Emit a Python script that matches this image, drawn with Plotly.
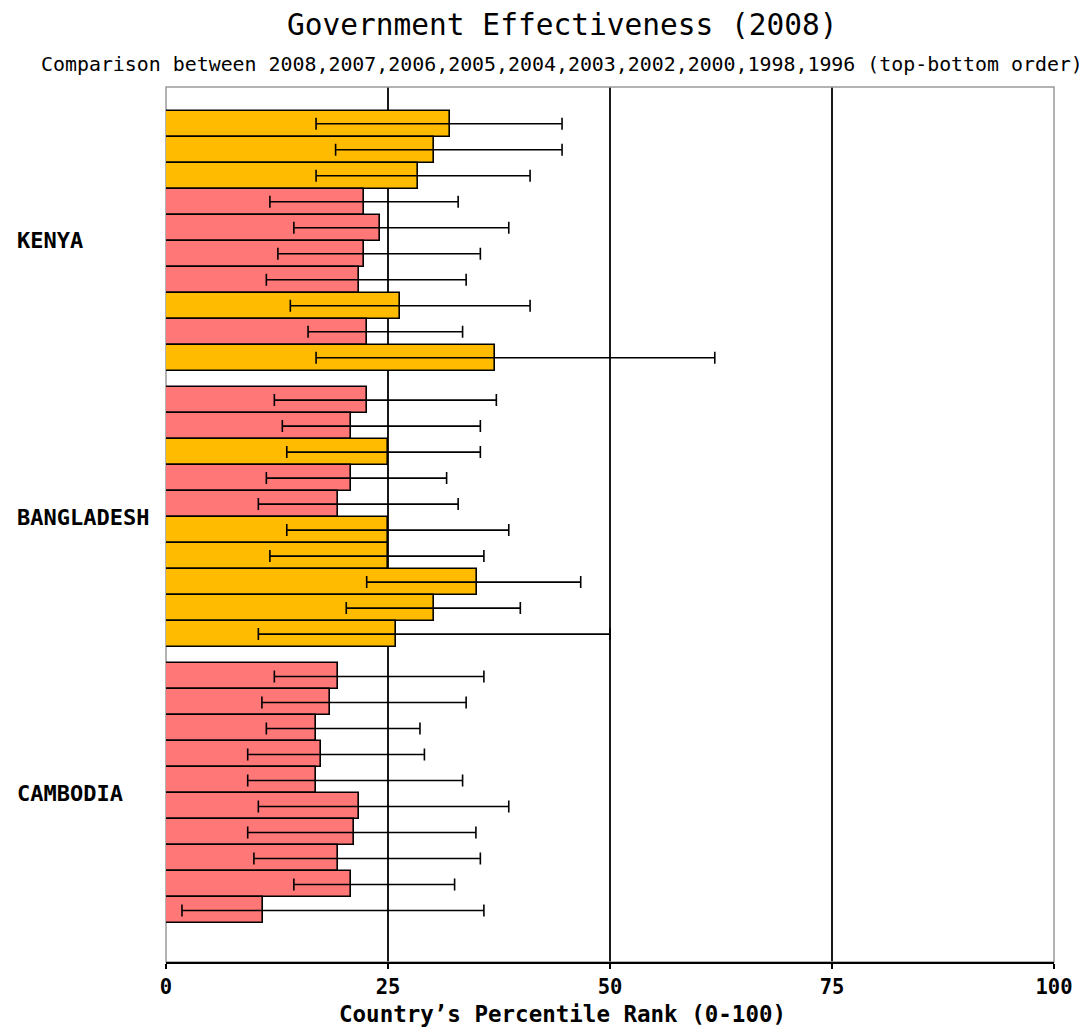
import plotly.graph_objects as go

# ---------------- data ----------------
COUNTRIES = ["KENYA", "BANGLADESH", "CAMBODIA"]
YEARS = [2008, 2007, 2006, 2005, 2004, 2003, 2002, 2000, 1998, 1996]

kenya_rank = [32.0, 30.2, 28.4, 22.3, 24.1, 22.3, 21.7, 26.4, 22.6, 37.0]
kenya_low = [16.9, 19.1, 16.9, 11.7, 14.4, 12.6, 11.3, 14.0, 16.0, 16.9]
kenya_high = [44.6, 44.6, 41.0, 32.9, 38.6, 35.4, 33.8, 41.0, 33.4, 61.8]

bangladesh_rank = [22.6, 20.8, 25.0, 20.8, 19.4, 25.0, 25.0, 35.0, 30.2, 25.9]
bangladesh_low = [12.2, 13.1, 13.6, 11.3, 10.4, 13.6, 11.7, 22.6, 20.3, 10.4]
bangladesh_high = [37.2, 35.4, 35.4, 31.6, 32.9, 38.6, 35.8, 46.7, 39.9, 50.0]

cambodia_rank = [19.4, 18.5, 16.9, 17.4, 16.9, 21.7, 21.2, 19.4, 20.8, 10.9]
cambodia_low = [12.2, 10.8, 11.3, 9.2, 9.2, 10.4, 9.2, 9.9, 14.4, 1.8]
cambodia_high = [35.8, 33.8, 28.6, 29.1, 33.4, 38.6, 34.9, 35.4, 32.5, 35.8]

X_TICKS = [0, 25, 50, 75, 100]
GRID_TICKS = [25, 50, 75]

TITLE = "Government Effectiveness (2008)"
SUBTITLE = "Comparison between " + ",".join(str(y) for y in YEARS) + " (top-bottom order)"
X_TITLE = "Country’s Percentile Rank (0-100)"

# ---------------- style ----------------
ORANGE = "#FFBB00"
RED = "#FF7777"
THRESH = 25
GROUP_GAP = 0.63
FONT = "DejaVu Sans Mono"

ranks = [kenya_rank, bangladesh_rank, cambodia_rank]
lows = [kenya_low, bangladesh_low, cambodia_low]
highs = [kenya_high, bangladesh_high, cambodia_high]

n = len(YEARS)
xs, ys, colors, plus, minus = [], [], [], [], []
for g in range(len(COUNTRIES)):
    for i in range(n):
        v = ranks[g][i]
        xs.append(v)
        ys.append(g * (n + GROUP_GAP) + i)
        colors.append(ORANGE if v >= THRESH else RED)
        plus.append(highs[g][i] - v)
        minus.append(v - lows[g][i])

fig = go.Figure()
fig.add_trace(go.Bar(
    x=xs, y=ys, orientation="h", width=1.0,
    marker=dict(color=colors, line=dict(color="black", width=1.6)),
    error_x=dict(type="data", symmetric=False, array=plus, arrayminus=minus,
                 color="black", thickness=1.6, width=6),
    showlegend=False, hoverinfo="x",
))

shapes = []
for t in GRID_TICKS:
    shapes.append(dict(type="line", xref="x", yref="paper", x0=t, x1=t, y0=0, y1=1,
                       line=dict(color="black", width=1.8), layer="below"))
shapes.append(dict(type="rect", xref="paper", yref="paper", x0=0, x1=1, y0=0, y1=1,
                   line=dict(color="#9a9a9a", width=1.5), layer="below"))

# page body margin offset (browser default 8px)
OFF = 8
W_ABS, H_ABS = 1087, 1027
L_ABS, R_ABS, T_ABS, B_ABS = 166, 1054, 87, 962   # absolute plot edges
W = W_ABS - OFF
H = H_ABS - OFF
L = L_ABS - OFF
T = T_ABS - OFF
R = W_ABS - R_ABS
B = H_ABS - B_ABS
PW = R_ABS - L_ABS
SLOT_PX = 26.0
FIRST_CENTER = 123.7
CX = 562

annotations = []
for g, c in enumerate(COUNTRIES):
    annotations.append(dict(
        text="<b>" + c + "</b>", xref="paper", x=(15 - L_ABS) / PW, xanchor="left",
        yref="y", y=g * (n + GROUP_GAP) + (n - 1) / 2, yanchor="middle",
        showarrow=False, font=dict(family=FONT, size=22, color="black")))
annotations.append(dict(
    text=TITLE, xref="paper", x=(CX - L_ABS) / PW, xanchor="center",
    yref="paper", y=1, yshift=(T_ABS - 25), yanchor="middle",
    showarrow=False, font=dict(family=FONT, size=29.5, color="black")))
annotations.append(dict(
    text=SUBTITLE, xref="paper", x=(CX - L_ABS) / PW, xanchor="center",
    yref="paper", y=1, yshift=(T_ABS - 64), yanchor="middle",
    showarrow=False, font=dict(family=FONT, size=19.9, color="black")))
annotations.append(dict(
    text="<b>" + X_TITLE + "</b>", xref="paper", x=(CX - L_ABS) / PW, xanchor="center",
    yref="paper", y=0, yshift=-(1014 - B_ABS), yanchor="middle",
    showarrow=False, font=dict(family=FONT, size=22.5, color="black")))

y_top = (T_ABS - FIRST_CENTER) / SLOT_PX
y_bot = (B_ABS - FIRST_CENTER) / SLOT_PX

fig.update_layout(
    width=W, height=H,
    margin=dict(l=L, r=R, t=T, b=B, pad=0),
    paper_bgcolor="white", plot_bgcolor="white",
    bargap=0,
    shapes=shapes,
    annotations=annotations,
    xaxis=dict(range=[0, 100], tickvals=X_TICKS, ticktext=["<b>%d</b>" % t for t in X_TICKS],
               showgrid=False, zeroline=False, showline=True, linecolor="black",
               linewidth=2, ticks="outside", ticklen=5, tickwidth=1.6, tickcolor="black",
               tickfont=dict(family=FONT, size=20.5, color="black"), fixedrange=True),
    yaxis=dict(range=[y_bot, y_top], showticklabels=False, showgrid=False,
               zeroline=False, showline=False, ticks="", fixedrange=True),
    font=dict(family=FONT),
)

fig.write_html("out.html")
